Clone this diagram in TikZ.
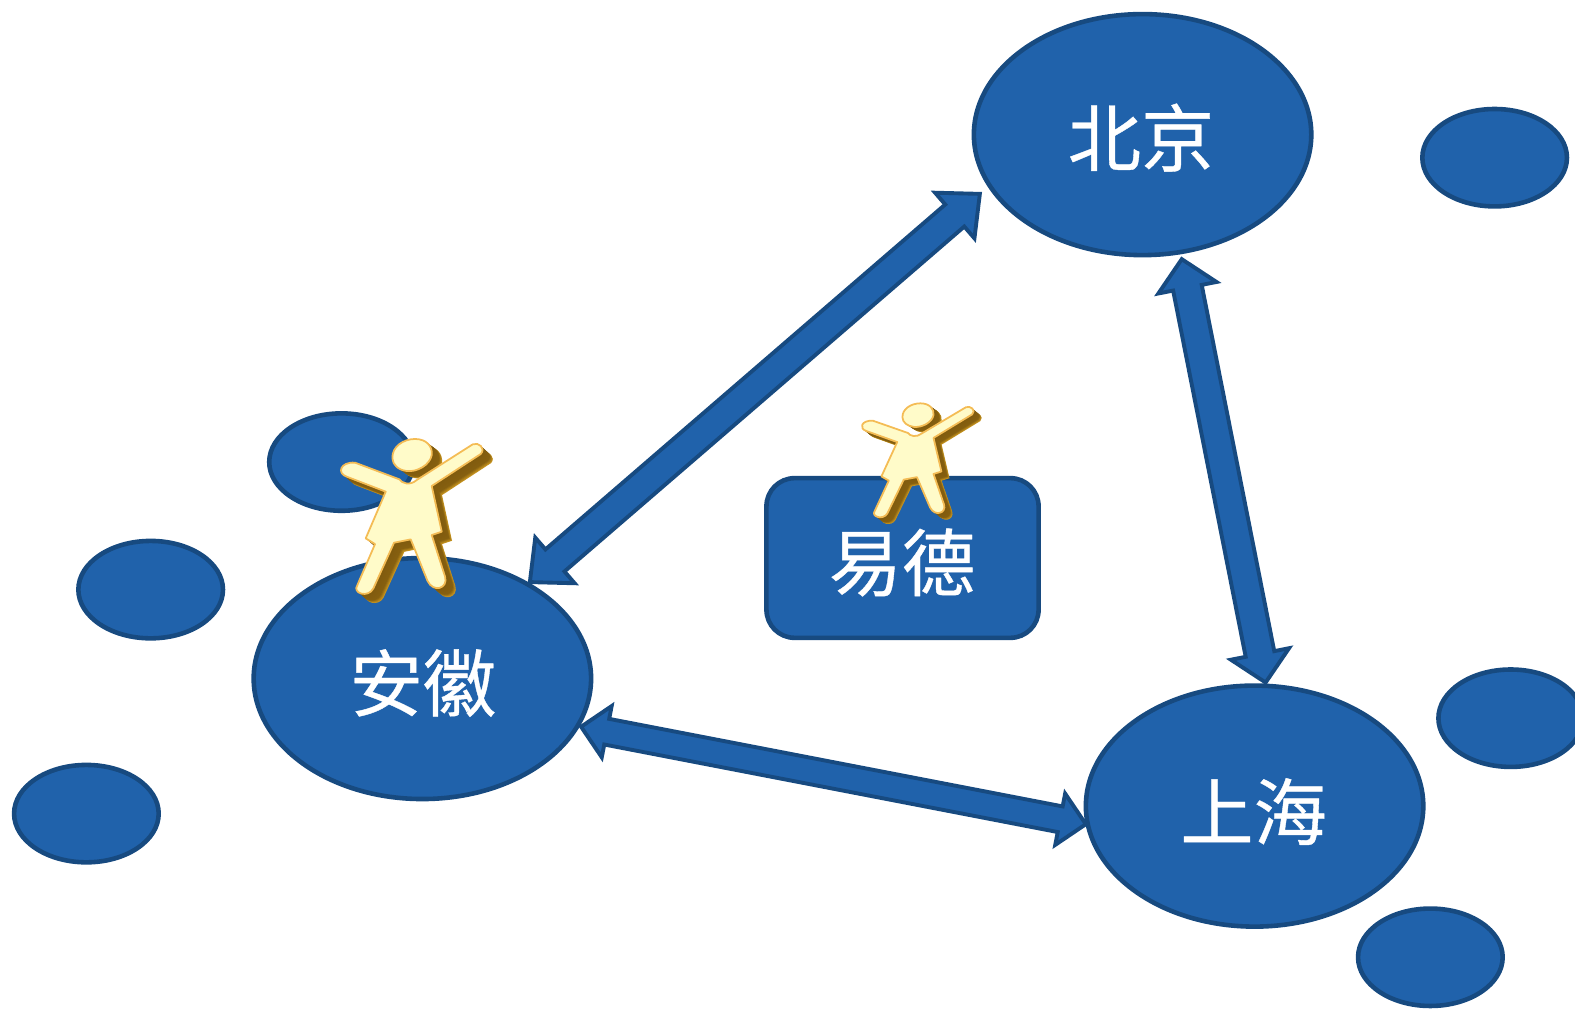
\documentclass[tikz,border=0pt]{standalone}
\usepackage{fontspec}
\newfontfamily\cjkfont[FakeBold=0.5]{Noto Sans CJK SC}
\usetikzlibrary{calc,shapes.geometric}
\definecolor{nodefill}{HTML}{2062AB}
\definecolor{nodeline}{HTML}{174A80}
\definecolor{skin}{HTML}{FFFBC9}
\definecolor{skinedge}{HTML}{F4BC55}
\definecolor{sideA}{HTML}{7F5A0E}
\definecolor{sideB}{HTML}{C4921F}
\tikzset{
  place/.style={ellipse,draw=nodeline,fill=nodefill,line width=2.6pt,inner sep=0pt},
  bigplace/.style={place,minimum width=6.72cm,minimum height=4.8cm},
  smallplace/.style={place,minimum width=2.88cm,minimum height=1.94cm},
  company/.style={rectangle,rounded corners=0.56cm,draw=nodeline,fill=nodefill,line width=2.6pt,
    minimum width=5.42cm,minimum height=3.18cm,inner sep=0pt},
  caption/.style={text=white,inner sep=0pt,font=\cjkfont\fontsize{41.5}{41.5}\selectfont},
  blockarrow/.style={draw=nodeline,fill=nodefill,line width=2.2pt,line join=miter},
}
% double-headed block arrow between two named points: from, to, half head width, head length, half shaft width
\newcommand{\dblarrow}[5]{%
  \coordinate (hA) at ($(#1)!#4*0.02cm!(#2)$);
  \coordinate (hB) at ($(#2)!#4*0.02cm!(#1)$);
  \draw[blockarrow] (#1)
    -- ($(hA)!#3*0.02cm!90:(#2)$) -- ($(hA)!#5*0.02cm!90:(#2)$)
    -- ($(hB)!#5*0.02cm!-90:(#1)$) -- ($(hB)!#3*0.02cm!-90:(#1)$)
    -- (#2)
    -- ($(hB)!#3*0.02cm!90:(#1)$) -- ($(hB)!#5*0.02cm!90:(#1)$)
    -- ($(hA)!#5*0.02cm!-90:(#2)$) -- ($(hA)!#3*0.02cm!-90:(#2)$)
    -- cycle;
}
\def\personbody{(238,178) .. controls (245,190) and (270,198) .. (290,180)
  -- (458,73) .. controls (475,65) and (498,85) .. (482,102)
  -- (335,198) -- (365,335) -- (335,345) -- (375,470)
  .. controls (385,505) and (340,520) .. (322,482)
  -- (272,358) -- (222,368) -- (160,505)
  .. controls (145,535) and (95,520) .. (112,495)
  -- (165,372) -- (137,355) -- (197,215) -- (80,170)
  .. controls (50,160) and (60,125) .. (105,128) -- cycle}
\def\personhead{(217,115) .. controls (215,80) and (250,57) .. (285,57)
  .. controls (320,57) and (338,80) .. (335,105)
  .. controls (330,135) and (290,157) .. (260,153)
  .. controls (235,150) and (218,135) .. (217,115) -- cycle}
\newcommand{\person}[4]{%
  \begin{scope}[shift={(#1,#2)},xscale=#3,yscale=#4]
    \foreach \k in {14,13,...,1}{
      \pgfmathsetmacro{\mx}{\k>10?(\k-10)*25:\k}
      \begin{scope}[shift={({2.2*\k},{1.6*\k})}]
        \fill[sideB!\mx!sideA] \personhead;
      \end{scope}
    }
    \draw[skinedge,fill=skin,line width=1pt] \personhead;
    \foreach \k in {14,13,...,1}{
      \pgfmathsetmacro{\mx}{\k>10?(\k-10)*25:\k}
      \begin{scope}[shift={({2.2*\k},{1.95*\k})}]
        \fill[sideB!\mx!sideA] \personbody;
      \end{scope}
    }
    \draw[skinedge,fill=skin,line width=1pt,line join=round] \personbody;
  \end{scope}
}
\begin{document}
\begin{tikzpicture}[x=0.02cm,y=-0.02cm]
\useasboundingbox (0,0) rectangle (1568,1010.45);
\clip (0,0) rectangle (1568,1010.45);

\node[smallplace] (s1) at (1488,157) {};
\node[smallplace] (s2) at (340,460) {};
\node[smallplace] (s3) at (150,587) {};
\node[smallplace] (s4) at (86,810) {};
\node[smallplace] (s5) at (1504,715) {};
\node[smallplace] (s6) at (1424,953) {};

\node[bigplace] (bj) at (1137.5,134) {};
\node[bigplace] (ah) at (420.5,675.5) {};
\node[bigplace] (sh) at (1249,802.5) {};
\node[company] (yd) at (898.5,555.5) {};

\node[caption] (tbj) at (1136,137) {北京};
\node[caption] (tah) at (421,680) {安徽};
\node[caption] (tsh) at (1248,808) {上海};
\node[caption] (tyd) at (898,560) {易德};

\coordinate (a1) at ($(ah.center)+(107,-96)$);
\coordinate (b1) at ($(bj.center)+(-162,59)$);
\coordinate (b2) at ($(bj.center)+(39,124)$);
\coordinate (c2) at ($(sh.center)+(11,-123)$);
\coordinate (a3) at ($(ah.center)+(158,48)$);
\coordinate (c3) at ($(sh.center)+(-168,18)$);

\dblarrow{a1}{b1}{30}{33}{14.5}
\dblarrow{b2}{c2}{29.5}{29}{14.5}
\dblarrow{a3}{c3}{26}{26}{13}

\person{318.6}{418.1}{0.332}{0.332}
\person{841.6}{387.6}{0.262}{0.2442}
\end{tikzpicture}
\end{document}
